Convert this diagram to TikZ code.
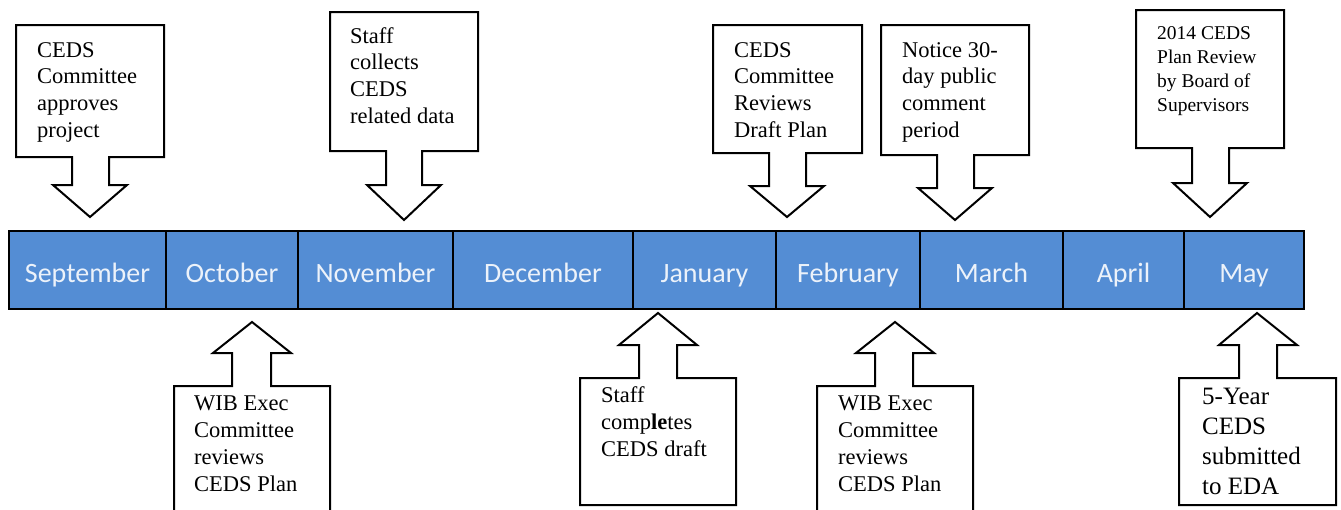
\documentclass[tikz,border=0pt]{standalone}
\usepackage{fontspec}
\setmainfont{Liberation Serif}
\newfontfamily\monthfont{Carlito}
\definecolor{barblue}{RGB}{84,141,212}
\definecolor{monthtxt}{RGB}{236,242,250}
\begin{document}
\begin{tikzpicture}[x=1pt,y=-1pt,
  callout/.style={draw=black, line width=2pt, fill=white, line join=miter},
  cell/.style={draw=black, line width=2.5pt, fill=barblue, minimum height=78pt, inner sep=0pt,
    text=monthtxt, font=\monthfont\fontsize{28}{30}\selectfont, text height=30pt, text depth=6pt},
  lbl/.style={anchor=base west, inner sep=0pt, font=\fontsize{22.5}{25}\selectfont},
  lblsmall/.style={anchor=base west, inner sep=0pt, font=\fontsize{19.5}{22}\selectfont},
  lblbig/.style={anchor=base west, inner sep=0pt, font=\fontsize{25}{27}\selectfont}]
\path[use as bounding box] (0,0) rectangle (1341,509);
\clip (0,0) rectangle (1341,509);

% month bar
\node[cell, minimum width=157pt] (m1) at (87.5,270) {September};
\node[cell, minimum width=132pt] (m2) at (232,270) {October};
\node[cell, minimum width=155pt] (m3) at (375.5,270) {November};
\node[cell, minimum width=180pt] (m4) at (543,270) {December};
\node[cell, minimum width=143pt] (m5) at (704.5,270) {January};
\node[cell, minimum width=144pt] (m6) at (848,270) {February};
\node[cell, minimum width=143pt] (m7) at (991.5,270) {March};
\node[cell, minimum width=121pt] (m8) at (1123.5,270) {April};
\node[cell, minimum width=120pt] (m9) at (1244,270) {May};

% down callouts
\draw[callout] (16,25) -- (164,25) -- (164,157) -- (109,157) -- (109,185) -- (127,185) -- (90,217)
  -- (53,185) -- (72,185) -- (72,157) -- (16,157) -- cycle;
\draw[callout] (330,12) -- (478,12) -- (478,151) -- (422,151) -- (422,185) -- (441,185) -- (404,220)
  -- (367,185) -- (386,185) -- (386,151) -- (330,151) -- cycle;
\draw[callout] (713,25) -- (862,25) -- (862,153) -- (806,153) -- (806,186) -- (824,186) -- (787,217)
  -- (750,186) -- (769,186) -- (769,153) -- (713,153) -- cycle;
\draw[callout] (881,25) -- (1029,25) -- (1029,155) -- (974,155) -- (974,188) -- (992,188) -- (955,220)
  -- (918,188) -- (937,188) -- (937,155) -- (881,155) -- cycle;
\draw[callout] (1136,10) -- (1284,10) -- (1284,148) -- (1229,148) -- (1229,183) -- (1247,183) -- (1210,217)
  -- (1173,183) -- (1192,183) -- (1192,148) -- (1136,148) -- cycle;

% up callouts
\draw[callout] (174,520) -- (174,386) -- (232,386) -- (232,353) -- (213,353) -- (252,322)
  -- (291,353) -- (271,353) -- (271,386) -- (330,386) -- (330,520);
\draw[callout] (580,505) -- (580,378) -- (639,378) -- (639,345) -- (619,345) -- (658,313)
  -- (697,345) -- (677,345) -- (677,378) -- (736,378) -- (736,505) -- cycle;
\draw[callout] (817,520) -- (817,386) -- (875,386) -- (875,353) -- (856,353) -- (895,322)
  -- (934,353) -- (913,353) -- (913,386) -- (973,386) -- (973,520);
\draw[callout] (1179,505) -- (1179,378) -- (1239,378) -- (1239,345) -- (1219,345) -- (1257,313)
  -- (1297,345) -- (1277,345) -- (1277,378) -- (1336,378) -- (1336,505) -- cycle;

% texts
\foreach \t [count=\i from 0] in {CEDS, Committee, approves, project}
  \node[lbl] (a\i) at (37,{57+\i*26.8}) {\t};
\foreach \t [count=\i from 0] in {Staff, collects, CEDS, related data}
  \node[lbl] (b\i) at (350,{43+\i*26.8}) {\t};
\foreach \t [count=\i from 0] in {CEDS, Committee, Reviews, Draft Plan}
  \node[lbl] (c\i) at (734,{57+\i*26.8}) {\t};
\foreach \t [count=\i from 0] in {Notice 30-, day public, comment, period}
  \node[lbl] (d\i) at (902,{57+\i*26.8}) {\t};
\foreach \t [count=\i from 0] in {2014 CEDS, Plan Review, by Board of, Supervisors}
  \node[lblsmall] (e\i) at (1157,{39+\i*24}) {\t};
\foreach \t [count=\i from 0] in {WIB Exec, Committee, reviews, CEDS Plan}
  \node[lbl] (f\i) at (194,{410+\i*27}) {\t};
\foreach \t [count=\i from 0] in {Staff, comp\textbf{le}tes, CEDS draft}
  \node[lbl] (g\i) at (601,{402+\i*27}) {\t};
\foreach \t [count=\i from 0] in {WIB Exec, Committee, reviews, CEDS Plan}
  \node[lbl] (h\i) at (838,{410+\i*27}) {\t};
\foreach \t [count=\i from 0] in {5-Year, CEDS, submitted, to EDA}
  \node[lblbig] (k\i) at (1202,{404+\i*30}) {\t};
\end{tikzpicture}
\end{document}
